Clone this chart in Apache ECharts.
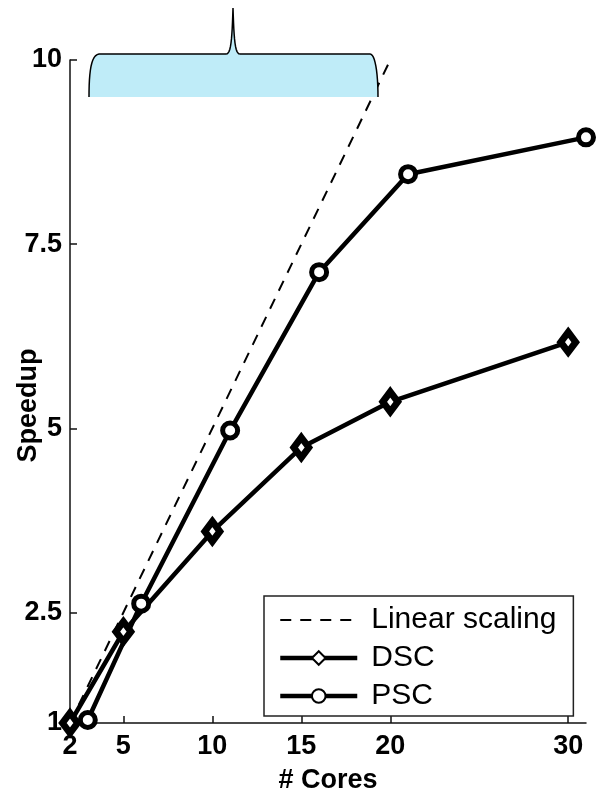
<!DOCTYPE html>
<html>
<head>
<meta charset="utf-8">
<script src="https://cdn.jsdelivr.net/npm/echarts@6/dist/echarts.min.js"></script>
<style>
html,body{margin:0;padding:0;background:#fff;}
#chart{width:615px;height:795px;}
</style>
</head>
<body>
<div id="chart"></div>
<script>
// ---- data ----
var linearCores = [2, 20];
var linearSpeedup = [1, 10];
var dscCores = [2, 5, 10, 15, 20, 30];
var dscSpeedup = [1, 2.24, 3.6, 4.74, 5.36, 6.17];
var pscCores = [3, 6, 11, 16, 21, 31];
var pscSpeedup = [1.04, 2.62, 4.97, 7.12, 8.45, 8.95];
var xTicks = [2, 5, 10, 15, 20, 30];
var yTicks = [1, 2.5, 5, 7.5, 10];
var seriesNames = ['Linear scaling', 'DSC', 'PSC'];

function pairs(xs, ys) { return xs.map(function (x, i) { return [x, ys[i]]; }); }

// decorative brace outline (pixel geometry, not data)
function bez(p0, p1, p2, p3, n) {
  var out = [];
  for (var i = 0; i <= n; i++) {
    var t = i / n, u = 1 - t;
    out.push([
      u*u*u*p0[0] + 3*u*u*t*p1[0] + 3*u*t*t*p2[0] + t*t*t*p3[0],
      u*u*u*p0[1] + 3*u*u*t*p1[1] + 3*u*t*t*p2[1] + t*t*t*p3[1]
    ]);
  }
  return out;
}
var braceLeft = bez([89, 97], [89, 72], [91, 55], [99, 54], 12);
var spikeUp = bez([226, 54], [231, 54], [232, 40], [233, 8], 12);
var spikeDown = bez([233, 8], [234, 40], [235, 54], [240, 54], 12);
var braceRight = bez([370, 54], [375, 54], [378, 72], [378, 97], 12);
var brace = [].concat(braceLeft, spikeUp, spikeDown, braceRight);

var FONT = 'Liberation Sans';
var chart = echarts.init(document.getElementById('chart'), null, {renderer: 'canvas'});

var option = {
  backgroundColor: '#fff',
  animation: false,
  grid: {left: 70, right: 29, top: 60, bottom: 72, containLabel: false, outerBoundsMode: 'none'},
  xAxis: {
    type: 'value', min: 2, max: 31,
    name: '# Cores', nameLocation: 'middle', nameGap: 44, nameMoveOverlap: false,
    nameTextStyle: {fontFamily: FONT, fontSize: 27, fontWeight: 'bold', color: '#000'},
    axisLine: {show: true, onZero: false, lineStyle: {color: '#111', width: 1.5}},
    axisTick: {show: true, inside: true, length: 7, customValues: xTicks, lineStyle: {color: '#111', width: 1.5}},
    axisLabel: {customValues: xTicks, margin: 10, fontFamily: FONT, fontSize: 27, fontWeight: 'bold', color: '#000'},
    splitLine: {show: false}
  },
  yAxis: {
    type: 'value', min: 1, max: 10,
    name: 'Speedup', nameLocation: 'middle', nameGap: 28, nameMoveOverlap: false,
    nameTextStyle: {fontFamily: FONT, fontSize: 27, fontWeight: 'bold', color: '#000', padding: [0, 28, 0, 0]},
    axisLine: {show: true, onZero: false, lineStyle: {color: '#111', width: 1.5}},
    axisTick: {show: true, inside: true, length: 7, customValues: yTicks, lineStyle: {color: '#111', width: 1.5}},
    axisLabel: {customValues: yTicks, margin: 8, fontFamily: FONT, fontSize: 27, fontWeight: 'bold', color: '#000'},
    splitLine: {show: false}
  },
  legend: {
    orient: 'vertical', left: 264, top: 596,
    data: [
      {name: seriesNames[0], lineStyle: {width: 2}, itemStyle: {color: 'rgba(0,0,0,0)', borderColor: 'rgba(0,0,0,0)', borderWidth: 0}},
      {name: seriesNames[1], lineStyle: {width: 4.5}},
      {name: seriesNames[2], lineStyle: {width: 4.5}}
    ],
    borderColor: '#222', borderWidth: 1.5, borderRadius: 0,
    padding: [9, 17, 5, 14],
    itemWidth: 77, itemHeight: 17, itemGap: 8,
    textStyle: {fontFamily: FONT, fontSize: 30, color: '#000', lineHeight: 29, padding: [0, 0, 0, 9]},
    backgroundColor: '#fff'
  },
  graphic: [
    {
      type: 'polygon', z: 100,
      shape: {points: brace},
      style: {fill: '#bfecf8', stroke: null}
    },
    {
      type: 'polyline', z: 101,
      shape: {points: braceLeft.concat([[226, 54]])},
      style: {fill: null, stroke: '#000', lineWidth: 1.5}
    },
    {
      type: 'polyline', z: 101,
      shape: {points: spikeUp.concat(spikeDown)},
      style: {fill: null, stroke: '#000', lineWidth: 1.5}
    },
    {
      type: 'polyline', z: 101,
      shape: {points: [[240, 54]].concat(braceRight)},
      style: {fill: null, stroke: '#000', lineWidth: 1.5}
    }
  ],
  series: [
    {
      name: seriesNames[0], type: 'line', data: pairs(linearCores, linearSpeedup),
      showSymbol: false, symbol: 'none', clip: false,
      lineStyle: {color: '#000', width: 2, type: [11, 9]},
      itemStyle: {color: '#000'}, z: 3
    },
    {
      name: seriesNames[1], type: 'line', data: pairs(dscCores, dscSpeedup),
      symbol: 'diamond', symbolSize: [15, 20], clip: false,
      lineStyle: {color: '#000', width: 4.5},
      itemStyle: {color: '#fff', borderColor: '#000', borderWidth: 7}, z: 4
    },
    {
      name: seriesNames[2], type: 'line', data: pairs(pscCores, pscSpeedup),
      symbol: 'circle', symbolSize: 15, clip: false,
      lineStyle: {color: '#000', width: 4.5},
      itemStyle: {color: '#fff', borderColor: '#000', borderWidth: 5}, z: 4
    }
  ]
};
chart.setOption(option);
</script>
</body>
</html>
